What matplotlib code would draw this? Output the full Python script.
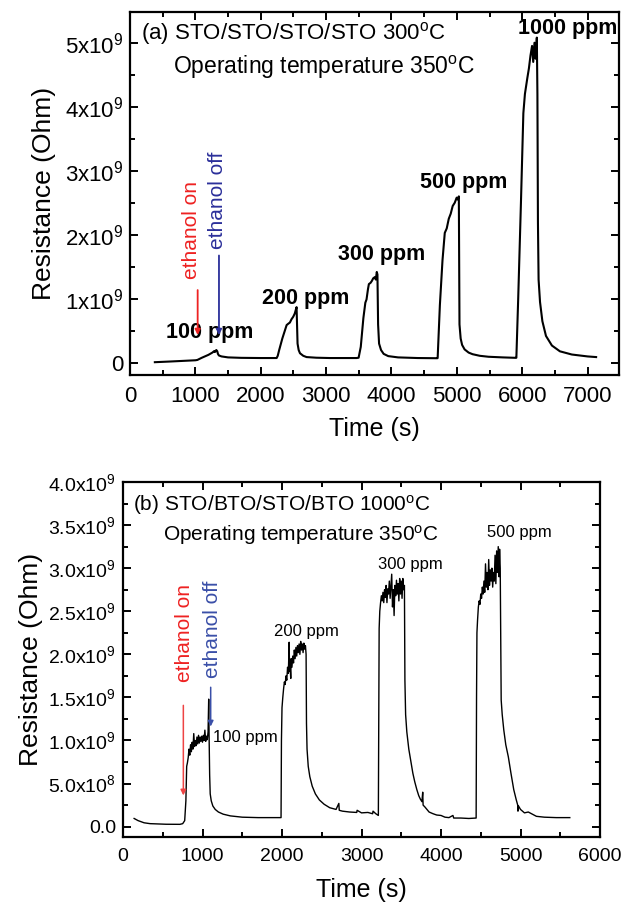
import matplotlib
matplotlib.use("Agg")
import matplotlib.pyplot as plt
from matplotlib.ticker import MultipleLocator, FixedLocator, FixedFormatter

plt.rcParams['font.family'] = ['Liberation Sans', 'DejaVu Sans']
plt.rcParams['mathtext.fontset'] = 'custom'
plt.rcParams['mathtext.rm'] = 'Liberation Sans'
plt.rcParams['mathtext.it'] = 'Liberation Sans:italic'
plt.rcParams['mathtext.bf'] = 'Liberation Sans:bold'

# ---------------- Panel (a) data: time (s), resistance (x1e9 Ohm) ----------------
time_a = [380, 600, 800, 1000, 1030, 1100, 1200, 1260, 1290, 1300, 1320, 1335, 1345, 1360, 1400, 1500, 1700, 2000, 2243,
          2260, 2282, 2330, 2396, 2420, 2446, 2470, 2497, 2520, 2548, 2563, 2580, 2600, 2650, 2701, 2850, 3058, 3466,
          3497, 3530, 3570, 3600, 3618, 3640, 3654, 3680, 3700, 3720, 3746, 3760, 3775, 3785, 3795, 3810, 3840, 3880, 3950, 4100, 4400, 4700,
          4706, 4740, 4780, 4815, 4845, 4876, 4906, 4936, 4967, 4997, 5015, 5030, 5040, 5058, 5080, 5118, 5180, 5240, 5350, 5483, 5700, 5905,
          5910, 5938, 5980, 6017, 6041, 6078, 6102, 6126, 6150, 6168, 6187, 6205, 6223, 6232, 6240, 6250, 6272, 6308, 6363, 6454, 6576, 6758, 7000, 7130]
res_a = [0.010, 0.020, 0.030, 0.040, 0.045, 0.080, 0.125, 0.160, 0.185, 0.170, 0.200, 0.180, 0.140, 0.115, 0.100, 0.085, 0.078, 0.075, 0.075,
         0.110, 0.200, 0.380, 0.590, 0.610, 0.630, 0.680, 0.720, 0.770, 0.870, 0.300, 0.200, 0.150, 0.110, 0.090, 0.080, 0.075, 0.075,
         0.080, 0.250, 0.700, 0.940, 0.990, 1.150, 1.230, 1.250, 1.280, 1.320, 1.340, 1.300, 1.420, 1.380, 0.600, 0.300, 0.200, 0.140, 0.105, 0.085, 0.075, 0.072,
         0.075, 0.900, 1.600, 2.030, 2.100, 2.250, 2.330, 2.450, 2.500, 2.580, 2.550, 2.600, 0.600, 0.380, 0.280, 0.210, 0.160, 0.135, 0.110, 0.095, 0.085, 0.078,
         0.080, 1.000, 2.500, 3.900, 4.200, 4.450, 4.600, 4.800, 4.950, 4.700, 5.000, 4.750, 5.080, 4.200, 2.200, 1.300, 0.950, 0.650, 0.420, 0.270, 0.180, 0.130, 0.100, 0.090]

ytick_vals_a = [0, 1, 2, 3, 4, 5]
ytick_labels_a = ['0', r'1x10$^{9}$', r'2x10$^{9}$', r'3x10$^{9}$', r'4x10$^{9}$', r'5x10$^{9}$']
labels_a = ['100 ppm', '200 ppm', '300 ppm', '500 ppm', '1000 ppm']
label_x_a = [1223, 2690, 3853, 5110, 6690]
label_y_a = [0.47, 1.00, 1.69, 2.81, 5.22]

# ---------------- Panel (b) data ----------------
time_b = [140, 190, 265, 340, 541, 716, 751, 776, 791, 801,
          810, 820, 830, 840, 850, 860, 870, 880, 890, 900, 910, 920, 930, 940, 950, 960, 970, 980, 990, 1000,
          1010, 1020, 1030, 1040, 1050, 1060, 1070, 1078, 1083, 1090, 1097, 1110, 1130, 1160, 1200, 1260, 1350, 1500, 1700, 1988,
          1993, 2000, 2010, 2020, 2030, 2040, 2050, 2060, 2070, 2080, 2090, 2095, 2100, 2110, 2115, 2125, 2135, 2145, 2155, 2165,
          2175, 2185, 2195, 2205, 2215, 2225, 2235, 2245, 2255, 2265, 2275, 2285, 2295, 2303, 2308, 2315, 2330, 2350, 2380, 2420,
          2470, 2530, 2600, 2680, 2715, 2720, 2760, 2850, 2940, 2945, 3000, 3080, 3140, 3145, 3180, 3212,
          3217, 3222, 3230, 3240, 3250, 3260, 3270, 3280, 3290, 3300, 3310, 3320, 3330, 3340, 3350, 3360, 3370, 3380, 3390, 3400,
          3410, 3420, 3430, 3440, 3450, 3460, 3470, 3480, 3490, 3500, 3510, 3520, 3530, 3540, 3546, 3555, 3570, 3595, 3620, 3646,
          3670, 3696, 3720, 3740, 3760, 3770, 3775, 3796, 3850, 3900, 3946, 4000, 4050, 4100, 4150, 4160, 4250, 4350, 4442,
          4447, 4452, 4460, 4470, 4480, 4490, 4500, 4510, 4520, 4530, 4540, 4550, 4560, 4570, 4580, 4590, 4600, 4610, 4620, 4630,
          4640, 4650, 4660, 4670, 4680, 4690, 4700, 4710, 4720, 4730, 4737, 4745, 4752, 4757, 4770, 4790, 4815, 4847, 4880, 4915,
          4947, 4965, 4968, 4975, 5000, 5050, 5098, 5200, 5300, 5450, 5620]
res_b = [0.095, 0.070, 0.045, 0.035, 0.028, 0.027, 0.035, 0.070, 0.300, 0.700,
         0.740, 0.800, 0.900, 0.830, 0.950, 0.870, 0.980, 0.900, 1.080, 0.930, 1.000, 0.940, 1.040, 0.960, 1.060, 0.970, 1.040, 0.990, 1.050, 0.980,
         1.060, 1.000, 1.120, 0.990, 1.050, 1.010, 1.100, 1.480, 1.050, 0.600, 0.380, 0.300, 0.240, 0.200, 0.170, 0.145, 0.125, 0.110, 0.105, 0.105,
         1.000, 1.380, 1.500, 1.600, 1.680, 1.650, 1.750, 1.700, 1.850, 1.780, 2.140, 1.800, 1.900, 1.720, 1.950, 1.850, 1.980, 1.900, 2.050, 1.950,
         2.080, 1.980, 2.100, 2.020, 2.120, 2.000, 2.150, 2.050, 2.120, 2.020, 2.130, 2.060, 2.100, 2.000, 1.200, 0.900, 0.700, 0.580, 0.470, 0.380,
         0.310, 0.260, 0.220, 0.200, 0.270, 0.190, 0.180, 0.170, 0.165, 0.190, 0.160, 0.165, 0.150, 0.180, 0.150, 0.130,
         1.200, 2.300, 2.500, 2.600, 2.680, 2.620, 2.720, 2.600, 2.750, 2.660, 2.800, 2.600, 2.760, 2.700, 2.850, 2.650, 2.800, 2.930, 2.550, 2.750,
         2.450, 2.800, 2.680, 2.860, 2.700, 2.820, 2.620, 2.880, 2.700, 2.850, 2.650, 2.880, 2.750, 2.800, 1.700, 1.300, 1.100, 0.900, 0.760, 0.620,
         0.520, 0.430, 0.360, 0.320, 0.290, 0.400, 0.250, 0.230, 0.170, 0.150, 0.135, 0.130, 0.110, 0.105, 0.130, 0.100, 0.100, 0.095, 0.100,
         1.500, 2.250, 2.400, 2.550, 2.620, 2.580, 2.700, 2.650, 2.780, 2.700, 2.850, 2.720, 3.050, 2.780, 2.950, 2.750, 3.100, 2.800, 2.980, 2.850,
         3.000, 2.780, 2.950, 2.850, 3.150, 2.820, 3.200, 2.950, 3.250, 2.900, 3.220, 3.000, 2.000, 1.470, 1.300, 1.120, 0.950, 0.810, 0.620, 0.430,
         0.310, 0.250, 0.180, 0.240, 0.200, 0.160, 0.170, 0.120, 0.110, 0.105, 0.105]

ytick_vals_b = [0.0, 0.5, 1.0, 1.5, 2.0, 2.5, 3.0, 3.5, 4.0]
ytick_labels_b = ['0.0', r'5.0x10$^{8}$', r'1.0x10$^{9}$', r'1.5x10$^{9}$', r'2.0x10$^{9}$',
                  r'2.5x10$^{9}$', r'3.0x10$^{9}$', r'3.5x10$^{9}$', r'4.0x10$^{9}$']
labels_b = ['100 ppm', '200 ppm', '300 ppm', '500 ppm']
label_x_b = [1537, 2308, 3619, 4987]
label_y_b = [1.04, 2.27, 3.04, 3.41]

E9 = 1e9

fig = plt.figure(figsize=(6.22, 9.05), dpi=100)
ax1 = fig.add_axes([130/622, 1-375/905, 489/622, 363/905])
ax2 = fig.add_axes([123/622, 1-837/905, 477/622, 355/905])


def style(ax):
    for s in ax.spines.values():
        s.set_linewidth(1.6)
    ax.tick_params(which='both', direction='in', top=True, right=True, width=1.4)
    ax.tick_params(which='major', length=6)
    ax.tick_params(which='minor', length=3.5)
    ax.tick_params(axis='x', which='both', pad=8)
    ax.tick_params(axis='y', which='both', pad=5)


# ---------------- Panel (a) ----------------
ax1.plot(time_a, [v * E9 for v in res_a], color='black', lw=1.5)
ax1.set_xlim(0, 7480)
ax1.set_ylim(-0.19 * E9, 5.48 * E9)
ax1.xaxis.set_major_locator(MultipleLocator(1000))
ax1.xaxis.set_minor_locator(MultipleLocator(500))
ax1.yaxis.set_major_locator(FixedLocator([v * E9 for v in ytick_vals_a]))
ax1.yaxis.set_major_formatter(FixedFormatter(ytick_labels_a))
ax1.yaxis.set_minor_locator(MultipleLocator(0.5 * E9))
style(ax1)
for lab in ax1.get_xticklabels() + ax1.get_yticklabels():
    lab.set_fontsize(16)
ax1.set_xlabel('Time (s)', fontsize=18, labelpad=7)
ax1.set_ylabel('Resistance (Ohm)', fontsize=19, labelpad=6)
ax1.text(0.022, 0.942, r'(a) STO/STO/STO/STO 300$^{\mathrm{o}}$C', transform=ax1.transAxes,
         fontsize=16, va='center', ha='left')
ax1.text(0.088, 0.848, r'Operating temperature 350$^{\mathrm{o}}$C', transform=ax1.transAxes,
         fontsize=16.5, va='center', ha='left')
for lab, x, y in zip(labels_a, label_x_a, label_y_a):
    ax1.text(x, y * E9, lab, fontsize=15.5, fontweight='bold', ha='center', va='center')
ax1.text(948, 1.31 * E9, 'ethanol on', color='#ee2222', rotation=90, fontsize=15, ha='center', va='bottom')
ax1.text(1338, 1.78 * E9, 'ethanol off', color='#2b2f9a', rotation=90, fontsize=15, ha='center', va='bottom')
ax1.annotate('', xy=(1035, 0.39 * E9), xytext=(1035, 1.18 * E9),
             arrowprops=dict(arrowstyle='-|>', color='#ee2222', lw=1.3, mutation_scale=8))
ax1.annotate('', xy=(1361, 0.39 * E9), xytext=(1361, 1.72 * E9),
             arrowprops=dict(arrowstyle='-|>', color='#2b2f9a', lw=1.3, mutation_scale=8))

# ---------------- Panel (b) ----------------
ax2.plot(time_b, [v * E9 for v in res_b], color='black', lw=1.0)
ax2.set_xlim(0, 6000)
ax2.set_ylim(-0.12 * E9, 4.0 * E9)
ax2.xaxis.set_major_locator(MultipleLocator(1000))
ax2.xaxis.set_minor_locator(MultipleLocator(500))
ax2.yaxis.set_major_locator(FixedLocator([v * E9 for v in ytick_vals_b]))
ax2.yaxis.set_major_formatter(FixedFormatter(ytick_labels_b))
ax2.yaxis.set_minor_locator(MultipleLocator(0.25 * E9))
style(ax2)
for lab in ax2.get_xticklabels() + ax2.get_yticklabels():
    lab.set_fontsize(14)
ax2.set_xlabel('Time (s)', fontsize=18, labelpad=9)
ax2.set_ylabel('Resistance (Ohm)', fontsize=19, labelpad=4)
ax2.text(0.021, 0.935, r'(b) STO/BTO/STO/BTO 1000$^{\mathrm{o}}$C', transform=ax2.transAxes,
         fontsize=15, va='center', ha='left')
ax2.text(0.084, 0.851, r'Operating temperature 350$^{\mathrm{o}}$C', transform=ax2.transAxes,
         fontsize=15, va='center', ha='left')
for lab, x, y in zip(labels_b, label_x_b, label_y_b):
    ax2.text(x, y * E9, lab, fontsize=12, ha='center', va='center')
ax2.text(774, 1.68 * E9, 'ethanol on', color='#ee2222', rotation=90, fontsize=15, ha='center', va='bottom')
ax2.text(1122, 1.72 * E9, 'ethanol off', color='#3a4fa8', rotation=90, fontsize=15, ha='center', va='bottom')
ax2.annotate('', xy=(759, 0.33 * E9), xytext=(759, 1.44 * E9),
             arrowprops=dict(arrowstyle='-|>', color='#ee4444', lw=1.1, mutation_scale=8))
ax2.annotate('', xy=(1103, 1.13 * E9), xytext=(1103, 1.65 * E9),
             arrowprops=dict(arrowstyle='-|>', color='#3a4fa8', lw=1.1, mutation_scale=8))

fig.savefig('out.png', dpi=100)
